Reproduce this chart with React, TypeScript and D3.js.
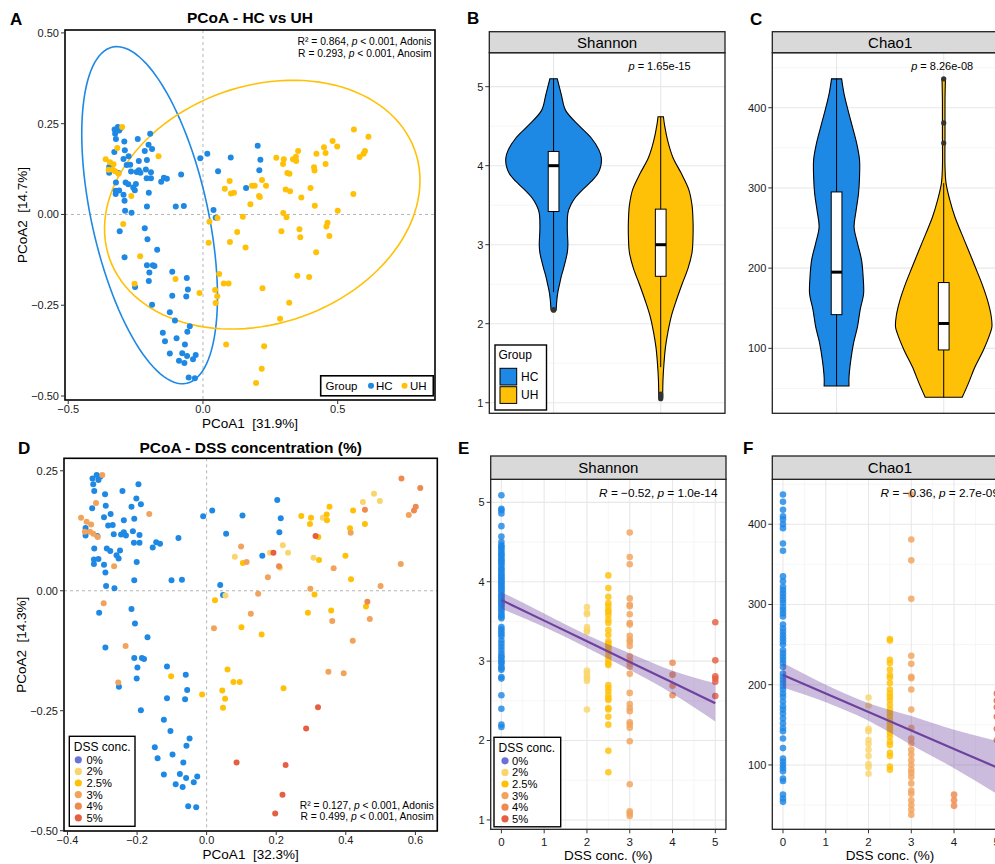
import React from 'react';
import * as d3 from 'd3';

const FONT = '"Liberation Sans", Arial, Helvetica, sans-serif';

const groups = ['HC', 'UH'];
const groupColors = ['#1e88e5', '#ffc107'];

const dssLevels = [0, 2, 2.5, 3, 4, 5];
const dssLabels = ['0%', '2%', '2.5%', '3%', '4%', '5%'];
const dssColors = ['#1e88e5', '#f9d56b', '#ffc107', '#f1a35b', '#ee8a4e', '#e65f42'];
const dssKeyColors = ['#6a72d6', '#f9d56b', '#ffc107', '#f1a35b', '#ee8a4e', '#e65f42'];

// PCoA coordinates [PCoA1, PCoA2], one list per DSS concentration
const pcoa0 = [
  [-0.328, 0.234], [-0.316, 0.241], [-0.311, 0.231], [-0.305, 0.238], [-0.326, 0.222], [-0.323, 0.208],
  [-0.292, 0.201], [-0.242, 0.208], [-0.196, 0.222], [-0.202, 0.192], [-0.189, 0.18], [-0.216, 0.175],
  [-0.29, 0.177], [-0.329, 0.172], [-0.276, 0.16], [-0.295, 0.153], [-0.238, 0.147], [-0.208, 0.15],
  [-0.283, 0.136], [-0.27, 0.137], [-0.348, 0.131], [-0.348, 0.115], [-0.314, 0.114], [-0.267, 0.118],
  [-0.246, 0.117], [-0.238, 0.122], [-0.232, 0.115], [-0.212, 0.124], [-0.193, 0.116], [-0.209, 0.1],
  [-0.193, 0.1], [-0.155, 0.09], [-0.145, 0.101], [-0.134, 0.098], [-0.081, 0.11], [-0.323, 0.088],
  [-0.287, 0.088], [-0.277, 0.083], [-0.249, 0.084], [-0.259, 0.074], [-0.253, 0.067], [-0.324, 0.065],
  [-0.311, 0.066], [-0.324, 0.056], [-0.295, 0.054], [-0.291, 0.038], [-0.201, 0.06], [-0.208, 0.022],
  [-0.101, 0.022], [-0.071, 0.023], [-0.289, 0.01], [-0.265, 0.005], [-0.01, 0.155], [0.016, 0.167],
  [0.039, 0.012], [0.047, -0.009], [-0.309, -0.046], [-0.216, -0.038], [0.103, 0.157], [0.056, 0.119],
  [0.203, 0.189], [0.213, 0.151], [0.209, 0.122], [0.16, 0.073], [-0.206, -0.068], [-0.17, -0.097],
  [-0.291, -0.118], [-0.208, -0.14], [-0.186, -0.14], [-0.18, -0.142], [-0.199, -0.16], [-0.201, -0.183],
  [-0.252, -0.2], [-0.114, -0.158], [-0.06, -0.175], [-0.056, -0.207], [-0.114, -0.224], [-0.062, -0.226],
  [-0.189, -0.249], [-0.123, -0.269], [-0.104, -0.292], [-0.049, -0.308], [-0.058, -0.323], [-0.149, -0.326],
  [-0.141, -0.349], [-0.098, -0.341], [-0.067, -0.358], [-0.123, -0.383], [-0.077, -0.382], [-0.059, -0.39],
  [-0.027, -0.387], [-0.089, -0.403], [-0.069, -0.409], [-0.037, -0.399], [-0.053, -0.449], [-0.03, -0.451],
];
const pcoa2 = [
  [0.481, 0.202], [0.449, 0.185], [0.498, 0.187], [0.334, 0.152], [0.081, 0.071], [0.182, 0.079],
  [0.219, 0.095], [0.234, 0.079], [0.211, 0.048], [0.307, 0.069], [0.054, -0.01],
];
const pcoa25 = [
  [0.024, -0.02], [0.353, 0.175], [0.345, 0.159], [0.346, 0.147], [0.3, 0.152], [0.297, 0.139],
  [0.272, 0.156], [0.421, 0.167], [0.412, 0.13], [0.455, 0.139], [0.321, 0.112], [0.104, 0.058],
  [0.323, 0.064], [0.399, 0.073], [0.415, 0.024], [0.31, -0.008], [0.458, -0.033], [0.291, -0.046],
  [0.358, -0.041], [0.1, -0.076], [0.158, -0.091], [-0.102, -0.178], [-0.013, -0.216], [0.06, -0.164],
  [0.077, -0.19], [0.095, -0.19], [0.045, -0.208], [0.053, -0.225], [0.047, -0.244], [0.221, -0.203],
];
const pcoa3 = [
  [-0.3, 0.241], [-0.318, 0.183], [-0.361, 0.152], [-0.345, 0.144], [-0.332, 0.138], [-0.35, 0.123],
  [-0.335, 0.123], [-0.326, 0.119], [-0.313, 0.112], [-0.165, 0.16], [-0.266, 0.051], [-0.296, -0.026],
  [-0.233, -0.115], [-0.254, -0.191], [0.099, 0.092], [0.115, 0.06], [0.365, 0.047], [0.5, 0.01],
  [0.558, 0.056], [0.176, 0.028], [0.148, -0.006], [0.298, 0.004], [0.469, -0.059], [0.127, -0.048],
  [0.361, -0.063], [0.021, -0.078], [0.42, -0.104], [0.35, -0.169], [0.394, -0.172], [0.414, 0.121],
  [0.581, 0.158],
];
const pcoa4 = [
  [0.56, 0.234], [0.614, 0.214], [0.455, 0.169], [0.601, 0.175], [0.596, 0.167], [0.208, 0.051], [0.462, -0.023],
];
const pcoa5 = [
  [0.313, 0.114], [0.192, 0.079], [0.32, -0.243], [0.286, -0.287], [0.086, -0.358], [0.227, -0.363],
  [0.218, -0.425], [0.197, -0.464],
];
const pcoaByLevel = [pcoa0, pcoa2, pcoa25, pcoa3, pcoa4, pcoa5];

// confidence ellipses: centre and two conjugate semi-axes, in PCoA units
const hcEllipse = { center: [-0.198, -0.002], u: [0.1375, -0.463], v: [0.211, 0.0344] };
const uhEllipse = { center: [0.22, 0.027], u: [0.566, 0.15], v: [0.149, -0.308] };

// violin outlines: value and relative density
const shannonHCv = [2.17, 2.2, 2.3, 2.4, 2.5, 2.6, 2.7, 2.8, 2.9, 3.0, 3.2, 3.4, 3.5, 3.6, 3.7, 3.8, 3.9, 4.0, 4.1, 4.2, 4.35, 4.5, 4.7, 4.9, 5.1];
const shannonHCd = [0.052, 0.056, 0.068, 0.089, 0.124, 0.16, 0.207, 0.249, 0.284, 0.297, 0.284, 0.297, 0.353, 0.456, 0.608, 0.782, 0.919, 0.981, 0.99, 0.94, 0.782, 0.539, 0.249, 0.16, 0.077];
const shannonUHv = [1.07, 1.1, 1.3, 1.5, 1.7, 1.9, 2.1, 2.3, 2.5, 2.7, 2.9, 3.1, 3.3, 3.5, 3.7, 3.9, 4.1, 4.3, 4.5, 4.62];
const shannonUHd = [0.041, 0.041, 0.048, 0.068, 0.098, 0.151, 0.222, 0.326, 0.442, 0.566, 0.649, 0.67, 0.67, 0.649, 0.581, 0.429, 0.255, 0.151, 0.083, 0.056];
const chaoHCv = [53, 64, 85, 106, 127, 148, 168, 189, 210, 231, 251, 272, 293, 314, 335, 355, 376, 397, 418, 436];
const chaoHCd = [0.258, 0.258, 0.294, 0.35, 0.434, 0.489, 0.56, 0.551, 0.518, 0.434, 0.363, 0.405, 0.455, 0.476, 0.476, 0.419, 0.329, 0.237, 0.153, 0.105];
const chaoUHv = [39, 56, 77, 98, 119, 127, 140, 160, 181, 202, 223, 243, 264, 285, 306, 326, 368, 410, 436];
const chaoUHd = [0.384, 0.509, 0.65, 0.824, 0.964, 1.0, 0.985, 0.908, 0.79, 0.65, 0.509, 0.371, 0.231, 0.126, 0.048, 0.027, 0.027, 0.027, 0.036];

// box stats: [lower whisker, q1, median, q3, upper whisker]
const shannonHCbox = [2.4, 3.42, 4.0, 4.18, 5.1];
const shannonUHbox = [1.45, 2.6, 3.0, 3.45, 4.62];
const shannonHCout = [2.17, 2.18];
const shannonUHout = [1.05, 1.07, 1.09, 1.11];
const chaoHCbox = [53, 142, 195, 295, 436];
const chaoUHbox = [39, 98, 131, 182, 306];
const chaoHCout: number[] = [];
const chaoUHout = [356, 381, 436];

// alpha diversity by DSS concentration
const shannon0 = [5.09, 4.92, 4.9, 4.86, 4.7, 4.57, 4.5, 4.46, 4.44, 4.42, 4.39, 4.36, 4.34, 4.32, 4.29, 4.27, 4.25, 4.23, 4.2, 4.17, 4.15, 4.13, 4.1, 4.08, 4.06, 4.04, 4.02, 4.0, 3.98, 3.96, 3.94, 3.92, 3.9, 3.88, 3.85, 3.83, 3.81, 3.79, 3.77, 3.75, 3.73, 3.71, 3.69, 3.66, 3.64, 3.61, 3.58, 3.56, 3.54, 3.43, 3.4, 3.37, 3.34, 3.31, 3.26, 3.22, 3.18, 3.14, 3.1, 3.06, 3.05, 3.01, 2.99, 2.97, 2.93, 2.91, 2.89, 2.8, 2.78, 2.57, 2.4, 2.2, 2.17];
const shannon2 = [3.68, 3.61, 3.59, 3.43, 3.39, 3.37, 2.88, 2.85, 2.81, 2.78, 2.75, 2.39];
const shannon25 = [4.08, 3.92, 3.81, 3.73, 3.69, 3.64, 3.62, 3.58, 3.52, 3.48, 3.39, 3.33, 3.25, 3.22, 3.19, 3.16, 3.12, 3.06, 3.01, 2.97, 2.95, 2.7, 2.66, 2.62, 2.57, 2.53, 2.51, 2.41, 2.39, 2.3, 2.2, 1.87, 1.6];
const shannon3 = [4.62, 4.31, 4.22, 3.79, 3.71, 3.69, 3.59, 3.48, 3.46, 3.32, 3.27, 3.24, 3.19, 3.06, 3.01, 2.97, 2.93, 2.84, 2.6, 2.46, 2.41, 2.37, 2.23, 2.2, 2.16, 1.99, 1.45, 1.11, 1.08, 1.05];
const shannon4 = [2.98, 2.83, 2.69, 2.57];
const shannon5 = [3.49, 3.01, 2.81, 2.78, 2.74, 2.56];
const chao0 = [437, 428, 418, 410, 406, 400, 395, 376, 367, 335, 329, 322, 318, 314, 310, 306, 302, 297, 293, 289, 285, 275, 270, 266, 262, 258, 254, 250, 243, 239, 235, 231, 227, 222, 214, 210, 206, 202, 198, 194, 189, 185, 179, 173, 169, 164, 158, 152, 146, 142, 133, 121, 108, 104, 100, 96, 92, 83, 80, 63, 58, 54];
const chao2 = [184, 174, 145, 142, 131, 126, 119, 111, 101, 97, 89];
const chao25 = [257, 255, 231, 227, 219, 212, 209, 202, 194, 189, 185, 181, 175, 169, 165, 161, 156, 152, 148, 144, 140, 135, 129, 125, 115, 111, 98, 94];
const chao3 = [437, 381, 355, 307, 236, 226, 210, 208, 194, 169, 146, 133, 127, 119, 113, 106, 100, 94, 90, 85, 77, 68, 64, 56, 50, 44, 38];
const chao4 = [63, 56, 49];
const chao5 = [189, 180, 172, 160, 145, 131];

// linear fit with 95% band
const fitX = [0, 1, 2, 3, 4, 5];
const shannonFit = [3.77, 3.51, 3.25, 2.99, 2.73, 2.47];
const shannonLo = [3.66, 3.43, 3.17, 2.89, 2.59, 2.24];
const shannonHi = [3.87, 3.6, 3.33, 3.1, 2.88, 2.72];
const chaoFit = [212, 189, 166, 143, 120, 97];
const chaoLo = [196.5, 178, 155, 125, 96, 64];
const chaoHi = [227.5, 200, 177, 161, 144, 130];

const minus = (s: string) => s.replace('-', '\u2212');

function ellipsePath(e: any, x: any, y: any) {
  const pts = d3.range(0, 121).map((i) => {
    const t = (i / 120) * Math.PI * 2;
    return [
      x(e.center[0] + e.u[0] * Math.cos(t) + e.v[0] * Math.sin(t)),
      y(e.center[1] + e.u[1] * Math.cos(t) + e.v[1] * Math.sin(t)),
    ] as [number, number];
  });
  return d3.line()(pts) || '';
}

function Pcoa(props: any) {
  const { box, xDomain, yDomain, xTicks, yTicks, titleY, title, xTitle, yTitle, colorFor, ellipses, stats, statsY } = props;
  const [L, T, R, B] = box;
  const x = d3.scaleLinear().domain(xDomain).range([L, R]);
  const y = d3.scaleLinear().domain(yDomain).range([B, T]);
  const cx = (L + R) / 2;
  const cy = (T + B) / 2;
  return (
    <g>
      <text x={cx} y={titleY} textAnchor="middle" fontWeight="bold" fontSize={15.5}>{title}</text>
      <line x1={x(0)} x2={x(0)} y1={T} y2={B} stroke="#b5b5b5" strokeDasharray="3,3" />
      <line x1={L} x2={R} y1={y(0)} y2={y(0)} stroke="#b5b5b5" strokeDasharray="3,3" />
      {ellipses.map((e: any, i: number) => (
        <path key={i} d={ellipsePath(e, x, y)} fill="none" stroke={e.color} strokeWidth={1.6} />
      ))}
      {pcoaByLevel.map((pts, li) =>
        pts.map((p, j) => <circle key={li + '-' + j} cx={x(p[0])} cy={y(p[1])} r={3} fill={colorFor(li)} />)
      )}
      <rect x={L} y={T} width={R - L} height={B - T} fill="none" stroke="#000" strokeWidth={1.6} />
      {yTicks.map((t: number) => (
        <g key={'y' + t}>
          <line x1={L - 4} x2={L} y1={y(t)} y2={y(t)} stroke="#333" />
          <text x={L - 6} y={y(t) + 3.9} textAnchor="end" fontSize={11} fill="#1a1a1a">{minus(d3.format('.2f')(t))}</text>
        </g>
      ))}
      {xTicks.map((t: number) => (
        <g key={'x' + t}>
          <line x1={x(t)} x2={x(t)} y1={B} y2={B + 4} stroke="#333" />
          <text x={x(t)} y={B + 12.8} textAnchor="middle" fontSize={11} fill="#1a1a1a">{minus(d3.format('.1f')(t))}</text>
        </g>
      ))}
      <text x={cx} y={B + 27.8} textAnchor="middle" fontSize={13.5}>{xTitle}</text>
      <text transform={`translate(${L - 38},${cy}) rotate(-90)`} textAnchor="middle" fontSize={13.5}>{yTitle}</text>
      {stats.map((s: any, i: number) => (
        <text key={i} x={R - 3.5} y={statsY[i]} textAnchor="end" fontSize={10.3}>
          {s[0]}<tspan fontStyle="italic">p</tspan>{s[1]}
        </text>
      ))}
    </g>
  );
}

function Violins(props: any) {
  const { box, stripTop, label, yDomain, yTicks, yMinor, violins, pText, pX } = props;
  const [L, T, R, B] = box;
  const x = d3.scalePoint().domain(groups).range([L, R]).padding(0.6);
  const step = x.step();
  const y = d3.scaleLinear().domain(yDomain).range([B, T]);
  const w = d3.scaleLinear().domain([0, 1]).range([0, 0.45 * step]);
  return (
    <g>
      {yMinor.map((t: number) => <line key={'m' + t} x1={L} x2={R} y1={y(t)} y2={y(t)} stroke="#f2f2f2" strokeWidth={0.7} />)}
      {yTicks.map((t: number) => <line key={'g' + t} x1={L} x2={R} y1={y(t)} y2={y(t)} stroke="#e8e8e8" strokeWidth={1.1} />)}
      {groups.map((g) => <line key={g} x1={x(g)} x2={x(g)} y1={T} y2={B} stroke="#e8e8e8" strokeWidth={1.1} />)}
      {violins.map((v: any, i: number) => {
        const c = x(groups[i]) as number;
        const pairs = v.values.map((val: number, k: number) => [val, v.dens[k]]);
        const area = d3.area<any>()
          .x0((d) => c - w(d[1]))
          .x1((d) => c + w(d[1]))
          .y((d) => y(d[0]))
          .curve(d3.curveCatmullRom);
        const [lw, q1, med, q3, hw] = v.box;
        const bw = 0.05 * step;
        return (
          <g key={i}>
            <path d={area(pairs) || ''} fill={groupColors[i]} stroke="#000" strokeWidth={1.1} />
            <line x1={c} x2={c} y1={y(lw)} y2={y(hw)} stroke="#000" strokeWidth={1} />
            <rect x={c - bw} y={y(q3)} width={2 * bw} height={y(q1) - y(q3)} fill="#fff" stroke="#000" strokeWidth={1} />
            <line x1={c - bw} x2={c + bw} y1={y(med)} y2={y(med)} stroke="#000" strokeWidth={3} />
            {v.out.map((o: number, k: number) => <circle key={k} cx={c} cy={y(o)} r={2.6} fill="#333" />)}
          </g>
        );
      })}
      <rect x={L} y={T} width={R - L} height={B - T} fill="none" stroke="#222" strokeWidth={1.3} />
      <rect x={L} y={stripTop} width={R - L} height={T - stripTop} fill="#d9d9d9" stroke="#222" strokeWidth={1.3} />
      <text x={(L + R) / 2} y={(stripTop + T) / 2 + 5.3} textAnchor="middle" fontSize={15}>{label}</text>
      {yTicks.map((t: number) => (
        <g key={'t' + t}>
          <line x1={L - 4} x2={L} y1={y(t)} y2={y(t)} stroke="#333" />
          <text x={L - 6} y={y(t) + 3.9} textAnchor="end" fontSize={11} fill="#1a1a1a">{t}</text>
        </g>
      ))}
      <text x={pX} y={T + 16.8} textAnchor="middle" fontSize={11}>
        <tspan fontStyle="italic">p</tspan>{pText}
      </text>
    </g>
  );
}

function Corr(props: any) {
  const { box, stripTop, label, yDomain, yTicks, yMinor, series, fit, lo, hi, rText } = props;
  const [L, T, R, B] = box;
  const x = d3.scaleLinear().domain([-0.25, 5.25]).range([L, R]);
  const y = d3.scaleLinear().domain(yDomain).range([B, T]);
  const xMajor = [0, 1, 2, 3, 4, 5];
  const xMinor = [0.5, 1.5, 2.5, 3.5, 4.5];
  const band = d3.area<number>()
    .x((d) => x(d))
    .y0((d, i) => y(lo[i]))
    .y1((d, i) => y(hi[i]))
    .curve(d3.curveMonotoneX);
  const fitLine = d3.line<number>().x((d) => x(d)).y((d, i) => y(fit[i]));
  return (
    <g>
      {yMinor.map((t: number) => <line key={'ym' + t} x1={L} x2={R} y1={y(t)} y2={y(t)} stroke="#f2f2f2" strokeWidth={0.7} />)}
      {xMinor.map((t) => <line key={'xm' + t} x1={x(t)} x2={x(t)} y1={T} y2={B} stroke="#f2f2f2" strokeWidth={0.7} />)}
      {yTicks.map((t: number) => <line key={'yg' + t} x1={L} x2={R} y1={y(t)} y2={y(t)} stroke="#e8e8e8" strokeWidth={1.1} />)}
      {xMajor.map((t) => <line key={'xg' + t} x1={x(t)} x2={x(t)} y1={T} y2={B} stroke="#e8e8e8" strokeWidth={1.1} />)}
      {series.map((vals: number[], li: number) =>
        vals.map((v, k) => (
          <circle key={li + '-' + k} cx={x(dssLevels[li])} cy={y(v)} r={3.3} fill={dssColors[li]} fillOpacity={0.82} />
        ))
      )}
      <path d={band(fitX) || ''} fill="#6a3d9a" fillOpacity={0.35} />
      <path d={fitLine(fitX) || ''} fill="none" stroke="#6f419e" strokeWidth={2.2} />
      <rect x={L} y={T} width={R - L} height={B - T} fill="none" stroke="#222" strokeWidth={1.3} />
      <rect x={L} y={stripTop} width={R - L} height={T - stripTop} fill="#d9d9d9" stroke="#222" strokeWidth={1.3} />
      <text x={(L + R) / 2} y={(stripTop + T) / 2 + 5.3} textAnchor="middle" fontSize={15}>{label}</text>
      {yTicks.map((t: number) => (
        <g key={'t' + t}>
          <line x1={L - 4} x2={L} y1={y(t)} y2={y(t)} stroke="#333" />
          <text x={L - 6} y={y(t) + 3.9} textAnchor="end" fontSize={11} fill="#1a1a1a">{t}</text>
        </g>
      ))}
      {xMajor.map((t) => (
        <g key={'xt' + t}>
          <line x1={x(t)} x2={x(t)} y1={B} y2={B + 4} stroke="#333" />
          <text x={x(t)} y={B + 16.5} textAnchor="middle" fontSize={11.5} fill="#1a1a1a">{t}</text>
        </g>
      ))}
      <text x={(L + R) / 2} y={B + 31} textAnchor="middle" fontSize={13.5}>DSS conc. (%)</text>
      <text x={R - 8.5} y={T + 17.7} textAnchor="end" fontSize={11.8}>
        <tspan fontStyle="italic">R</tspan>{rText[0]}<tspan fontStyle="italic">p</tspan>{rText[1]}
      </text>
    </g>
  );
}

function DssLegend({ x0, y0, w, h, dotX, labelX, firstY, gap }: any) {
  return (
    <g>
      <rect x={x0} y={y0} width={w} height={h} fill="#fff" stroke="#000" strokeWidth={1.4} />
      <text x={x0 + 4.5} y={y0 + 14.5} fontSize={12}>DSS conc.</text>
      {dssLabels.map((lab, i) => (
        <g key={lab}>
          <circle cx={dotX} cy={firstY + i * gap} r={3.6} fill={dssKeyColors[i]} />
          <text x={labelX} y={firstY + i * gap + 4} fontSize={11.2}>{lab}</text>
        </g>
      ))}
    </g>
  );
}

export default function App() {
  const letters = [
    ['A', 10, 25], ['B', 467, 23.5], ['C', 750, 25],
    ['D', 18, 453.5], ['E', 458, 453.5], ['F', 743, 453.5],
  ];
  return (
    <svg width={995} height={864} style={{ position: 'absolute', left: 0, top: 0, background: '#fff' }} fontFamily={FONT}>
      <rect x={0} y={0} width={995} height={864} fill="#fff" />
      {letters.map(([l, lx, ly]) => (
        <text key={l as string} x={lx as number} y={ly as number} fontWeight="bold" fontSize={17}>{l}</text>
      ))}

      <Pcoa
        box={[65, 30, 435, 400]}
        xDomain={[-0.512, 0.861]}
        yDomain={[-0.511, 0.508]}
        xTicks={[-0.5, 0, 0.5]}
        yTicks={[-0.5, -0.25, 0, 0.25, 0.5]}
        titleY={23.3}
        title="PCoA - HC vs UH"
        xTitle={'PCoA1\u00a0\u00a0[31.9%]'}
        yTitle={'PCoA2\u00a0\u00a0[14.7%]'}
        colorFor={(li: number) => (li === 0 ? groupColors[0] : groupColors[1])}
        ellipses={[
          { ...hcEllipse, color: groupColors[0] },
          { ...uhEllipse, color: groupColors[1] },
        ]}
        stats={[['R\u00b2 = 0.864, ', ' < 0.001, Adonis'], ['R = 0.293, ', ' < 0.001, Anosim']]}
        statsY={[45.3, 57]}
      />
      <g>
        <rect x={320.7} y={375.8} width={112.6} height={20} fill="#fff" stroke="#000" strokeWidth={1.6} />
        <text x={325.5} y={389.8} fontSize={11.5}>Group</text>
        <circle cx={371} cy={385.8} r={3} fill={groupColors[0]} />
        <text x={376} y={389.8} fontSize={11.5}>HC</text>
        <circle cx={404.5} cy={385.8} r={3} fill={groupColors[1]} />
        <text x={410} y={389.8} fontSize={11.5}>UH</text>
      </g>

      <Violins
        box={[489.3, 52.7, 725, 413.3]}
        stripTop={31.7}
        label="Shannon"
        yDomain={[0.866, 5.43]}
        yTicks={[1, 2, 3, 4, 5]}
        yMinor={[1.5, 2.5, 3.5, 4.5]}
        violins={[
          { values: shannonHCv, dens: shannonHCd, box: shannonHCbox, out: shannonHCout },
          { values: shannonUHv, dens: shannonUHd, box: shannonUHbox, out: shannonUHout },
        ]}
        pText=" = 1.65e-15"
        pX={659.5}
      />
      <g>
        <rect x={495} y={345} width={51.5} height={65} fill="#fff" stroke="#000" strokeWidth={1.4} />
        <text x={498.5} y={359} fontSize={12}>Group</text>
        {groups.map((g, i) => (
          <g key={g}>
            <rect x={500} y={368.3 + i * 18.4} width={16.7} height={16.7} fill={groupColors[i]} stroke="#000" strokeWidth={1} />
            <text x={521} y={381 + i * 18.4} fontSize={12}>{g}</text>
          </g>
        ))}
      </g>

      <Violins
        box={[772.3, 52.7, 1008, 413.3]}
        stripTop={31.7}
        label="Chao1"
        yDomain={[19, 468.6]}
        yTicks={[100, 200, 300, 400]}
        yMinor={[50, 150, 250, 350, 450]}
        violins={[
          { values: chaoHCv, dens: chaoHCd, box: chaoHCbox, out: chaoHCout },
          { values: chaoUHv, dens: chaoUHd, box: chaoUHbox, out: chaoUHout },
        ]}
        pText=" = 8.26e-08"
        pX={942.2}
      />

      <Pcoa
        box={[64, 458.3, 437.3, 831]}
        xDomain={[-0.41, 0.663]}
        yDomain={[-0.5006, 0.276]}
        xTicks={[-0.4, -0.2, 0, 0.2, 0.4, 0.6]}
        yTicks={[-0.5, -0.25, 0, 0.25]}
        titleY={453.3}
        title="PCoA - DSS concentration (%)"
        xTitle={'PCoA1\u00a0\u00a0[32.3%]'}
        yTitle={'PCoA2\u00a0\u00a0[14.3%]'}
        colorFor={(li: number) => dssColors[li]}
        ellipses={[]}
        stats={[['R\u00b2 = 0.127, ', ' < 0.001, Adonis'], ['R = 0.499, ', ' < 0.001, Anosim']]}
        statsY={[808.7, 820.4]}
      />
      <DssLegend x0={69.3} y0={736.3} w={65.7} h={90} dotX={78.3} labelX={86.5} firstY={759.8} gap={11.6} />

      <Corr
        box={[490.7, 479.3, 726, 829.3]}
        stripTop={456}
        label="Shannon"
        yDomain={[0.882, 5.29]}
        yTicks={[1, 2, 3, 4, 5]}
        yMinor={[1.5, 2.5, 3.5, 4.5]}
        series={[shannon0, shannon2, shannon25, shannon3, shannon4, shannon5]}
        fit={shannonFit}
        lo={shannonLo}
        hi={shannonHi}
        rText={[' = \u22120.52, ', ' = 1.0e-14']}
      />
      <DssLegend x0={494} y0={737.3} w={66.7} h={89.5} dotX={505} labelX={512} firstY={760.8} gap={11.6} />

      <Corr
        box={[772.3, 479.3, 1007.5, 829.3]}
        stripTop={456}
        label="Chao1"
        yDomain={[19.8, 456]}
        yTicks={[100, 200, 300, 400]}
        yMinor={[50, 150, 250, 350, 450]}
        series={[chao0, chao2, chao25, chao3, chao4, chao5]}
        fit={chaoFit}
        lo={chaoLo}
        hi={chaoHi}
        rText={[' = \u22120.36, ', ' = 2.7e-09']}
      />
    </svg>
  );
}
